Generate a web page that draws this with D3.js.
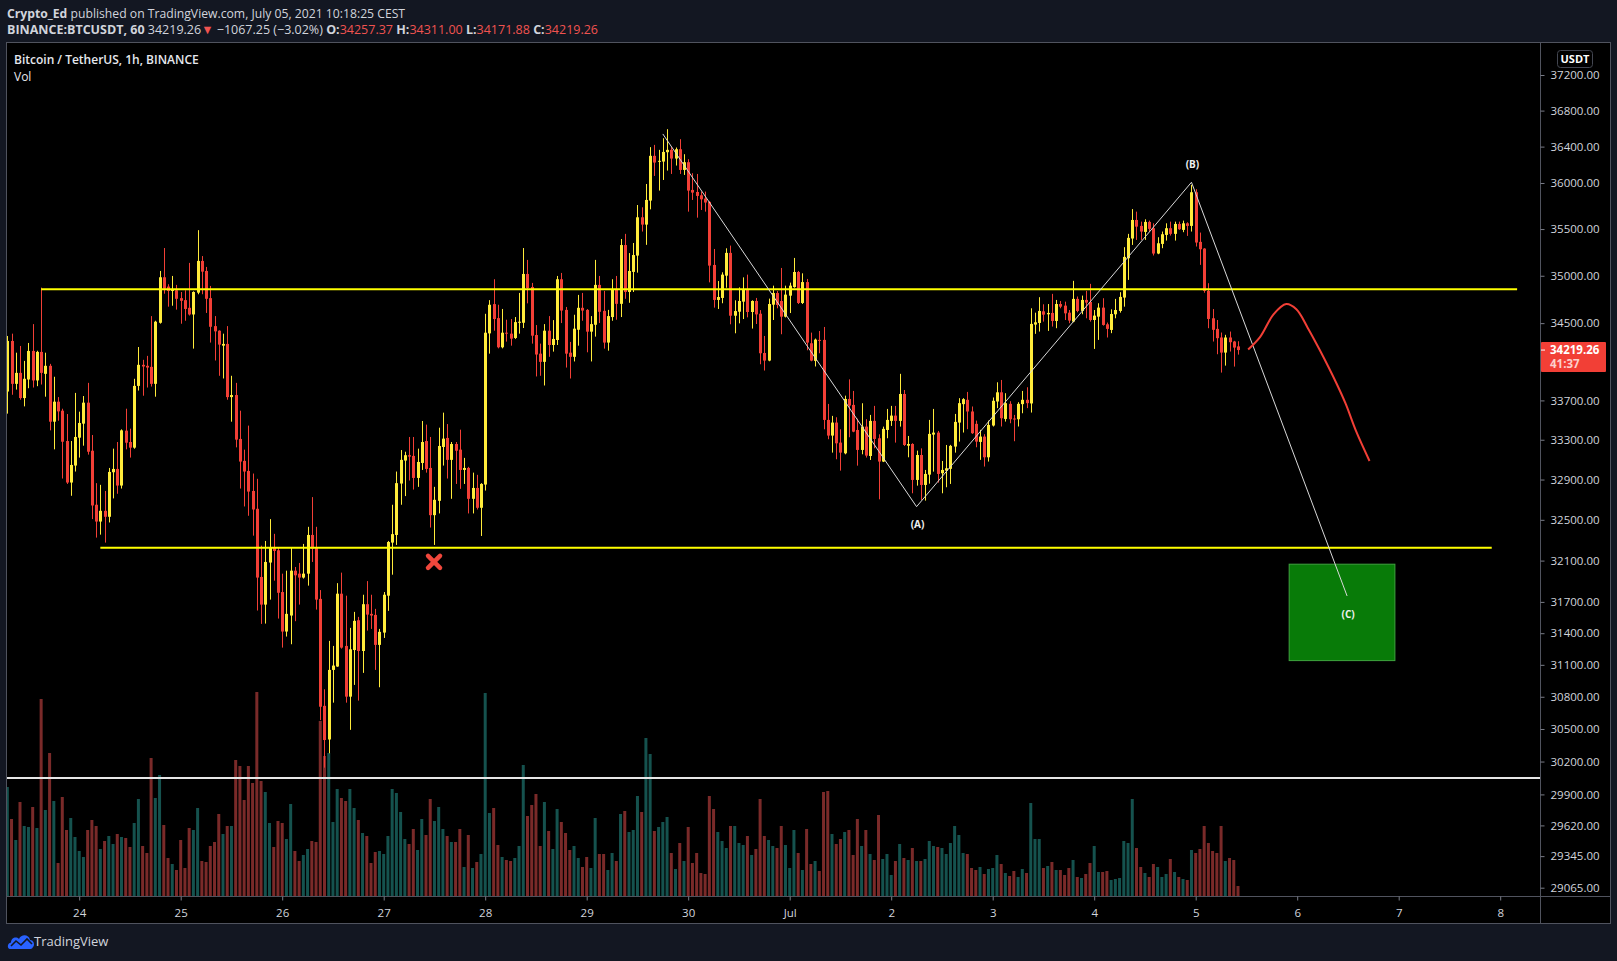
<!DOCTYPE html>
<html>
<head>
<meta charset="utf-8">
<title>BTCUSDT 1h</title>
<script src="https://cdnjs.cloudflare.com/ajax/libs/d3/7.8.5/d3.min.js"></script>
<style>
    body { margin: 0; background: #131722; overflow: hidden; }
    #chart-area text { font-family: "Open Sans", "Noto Sans", sans-serif; }
</style>
</head>
<body>
<div id="chart-area"></div>
<script>

// hourly bars, first one at 23 Jun 07:00
const HOUR = 3600 * 1000
const firstBar = Date.UTC(2021, 5, 23, 7)

const open = [
    33791,34314,33870,33983,33724,33915,34210,33905,34200,33973,34056,33483,
    33687,33595,33287,32870,33040,33321,33463,33677,33189,32649,32483,32589,
    32530,32973,33006,32840,33392,33277,33220,33849,34066,34056,34045,33870,
    34504,34984,34885,34839,34846,34763,34742,34661,34591,34821,35158,35051,
    34763,34469,34421,34265,34283,33734,33755,33308,33087,32986,32786,32609,
    31941,31674,32081,32230,32201,31795,31416,31569,32002,31973,31935,31973,
    32351,32227,31729,30715,30403,31052,31084,31779,31279,30801,31240,31524,
    31231,31678,31585,31575,31289,31406,31760,32276,32351,32860,33090,33144,
    33137,32916,33066,33287,33016,32546,32688,33227,33318,33097,33257,33200,
    32996,33016,32708,32816,32619,32850,34393,34700,34553,34248,34400,34390,
    34345,34504,34504,35019,34881,34376,34182,34097,34421,34272,34324,34963,
    34639,34192,34149,34431,34661,34639,34411,34483,34903,34629,34297,34564,
    34860,34703,35328,34828,35041,35215,35627,35548,35808,36298,36232,36235,
    36338,36364,36268,36371,36143,36228,35924,35902,35866,35830,35794,35115,
    34744,34765,35001,35244,34578,34620,34726,34852,34617,34733,34599,34189,
    34110,34694,34817,34733,34568,34789,34880,35040,34712,34933,34290,34107,
    34325,34325,33501,33342,33474,33271,33163,33715,33654,33399,33197,33433,
    33136,33491,33315,33080,33399,33491,33545,33491,33766,33240,33257,32896,
    33146,32846,32949,33352,33372,32963,32989,33007,33231,33474,33662,33706,
    33587,33461,33278,33332,33123,33444,33689,33783,33511,33665,33515,33508,
    33662,33706,33669,34485,34502,34624,34593,34607,34523,34701,34684,34610,
    34516,34755,34628,34744,34723,34533,34568,34663,34488,34429,34593,34628,
    34769,35187,35398,35598,35534,35469,35577,35509,35237,35340,35437,35509,
    35448,35555,35491,35562,35534,35899,35362,35290,34840,34551,34440,34350,
    34193,34350,34308,34257.37
]

const high = [
    34366,34390,34192,34262,34107,34293,34490,34212,34874,34192,34076,33943,
    33734,33615,33561,33287,33777,33585,33745,33880,33348,32864,32847,32786,
    33016,33210,33277,33405,33615,33412,33922,34251,34118,34159,34574,34525,
    35051,35296,34910,34998,34903,34828,34846,35137,34835,35488,35210,35094,
    34892,34574,34425,34390,34469,33953,33880,33595,33200,33443,32960,32907,
    32246,32292,32507,32362,32230,31973,32002,32230,32038,32077,32263,32431,
    32725,32431,31814,30870,31327,31279,31881,31983,31760,31451,31604,31556,
    31769,31901,31769,31633,31441,31795,32292,32649,32980,33196,33179,33328,
    33328,33210,33490,33453,33328,32827,33422,33575,33459,33277,33277,33402,
    33117,33027,32969,32947,32864,34598,34742,34963,34693,34649,34536,34543,
    34564,34818,35296,35169,34924,34480,34286,34490,34574,34532,34998,35030,
    34670,34304,34588,34797,34818,34648,34574,35169,34998,34839,34639,34963,
    34998,35393,35448,35242,35350,35760,35735,35989,36394,36419,36364,36493,
    36593,36394,36390,36482,36316,36261,36107,36099,35906,35906,35801,35286,
    34944,35037,35293,35322,34740,34877,34983,35012,34740,34765,34637,34366,
    34758,34895,34838,35083,34895,34927,35190,35051,35026,34966,34401,34339,
    34418,34460,33664,33542,33528,33406,33749,33916,33797,33514,33671,33508,
    33552,33644,33355,33433,33613,33644,33644,33973,33807,33338,33265,33190,
    33213,32996,33501,33613,33389,33086,33247,33248,33562,33723,33723,33787,
    33638,33494,33400,33356,33494,33730,33886,33910,33774,33692,33552,33682,
    33797,33835,34656,34610,34773,34698,34701,34808,34744,34733,34726,34638,
    34946,34780,34790,34840,34914,34638,34709,34762,34506,34645,34755,34826,
    35305,35448,35716,35688,35580,35605,35591,35562,35412,35473,35562,35580,
    35580,35580,35591,35573,35979,35932,35462,35294,34921,34648,34533,34402,
    34378,34412,34315,34311.00
]

const low = [
    33565,33758,33811,33707,33639,33825,33832,33846,33863,33738,33395,33203,
    33493,32910,32856,32738,32980,33120,33240,33150,32507,32325,32354,32276,
    32474,32712,32758,32810,33203,33120,33209,33801,33748,33832,33842,33738,
    34495,34810,34673,34683,34642,34494,34525,34580,34234,34804,34804,34607,
    34297,34111,33953,33925,33707,33483,33223,32810,32632,32540,32344,31617,
    31489,31492,31722,31905,31540,31263,31368,31295,31515,31674,31925,31857,
    32087,31626,30582,30144,30276,30745,31081,31253,30745,30492,30911,30764,
    31024,31425,31441,31052,30889,31355,31614,31963,32253,32649,32735,32890,
    32800,32827,32996,32969,32424,32253,32563,33040,32910,32708,32856,32807,
    32856,32563,32563,32602,32341,32790,34182,34421,34237,34237,34307,34265,
    34335,34390,34449,34708,34286,33946,33953,33853,34149,34203,34272,34501,
    34038,33925,34101,34265,34525,34196,34101,34359,34501,34234,34213,34525,
    34536,34564,34756,34714,34828,35033,35473,35330,35713,36077,35917,36033,
    36136,36099,36191,36099,36088,35688,35815,35623,35706,35688,34930,34663,
    34649,34709,34873,34488,34394,34498,34543,34561,34443,34491,34072,34007,
    34103,34533,34656,34384,34560,34606,34873,34701,34701,34217,34103,34049,
    34186,33406,33305,33170,33103,32989,33153,33325,33376,33039,33153,33120,
    33096,33214,32703,33075,33315,33440,33271,33433,33237,33123,32763,32839,
    32697,32690,32859,32979,32869,32763,32823,32856,33170,33281,33373,33407,
    33359,33224,33097,33030,33080,33434,33621,33434,33484,33467,33285,33434,
    33569,33621,33576,34388,34412,34516,34419,34464,34447,34656,34533,34499,
    34509,34614,34593,34551,34516,34231,34325,34474,34350,34395,34551,34610,
    34673,34956,35329,35383,35383,35383,35473,35216,35230,35294,35376,35430,
    35376,35491,35466,35426,35473,35312,35116,34820,34447,34308,34176,33986,
    34058,34204,34048,34171.88
]

const close = [
    34314,33870,33983,33724,33922,34210,33905,34200,33983,34056,33483,33687,
    33588,33280,32870,33046,33328,33470,33677,33179,32642,32483,32589,32530,
    32976,33006,32840,33395,33270,33220,33849,34066,34049,34038,33870,34515,
    34984,34863,34839,34853,34756,34735,34649,34591,34828,35158,35044,34756,
    34462,34414,34276,34283,33734,33755,33301,33080,32980,32780,32602,31935,
    31674,32087,32230,32194,31788,31416,31585,32002,31957,31935,31973,32351,
    32217,31722,30707,30398,31052,31093,31779,31263,30801,31247,31518,31231,
    31678,31578,31569,31289,31413,31769,32282,32359,32864,33097,33144,33130,
    32916,33076,33277,33006,32546,32698,33237,33311,33097,33257,33189,32996,
    33016,32708,32816,32619,32856,34400,34693,34543,34248,34400,34390,34338,
    34511,34515,35019,34870,34369,34173,34097,34421,34272,34335,34963,34632,
    34182,34149,34442,34661,34632,34411,34490,34903,34619,34297,34574,34850,
    34703,35328,34828,35051,35221,35627,35548,35815,36298,36224,36243,36341,
    36364,36268,36371,36143,36228,35917,35895,35859,35822,35787,35108,34744,
    34775,35012,35244,34578,34627,34733,34852,34617,34733,34592,34186,34110,
    34701,34817,34691,34568,34800,34895,35040,34712,34933,34297,34110,34328,
    34318,33501,33342,33474,33264,33170,33715,33647,33382,33197,33433,33140,
    33491,33308,33080,33410,33501,33545,33491,33766,33247,33257,32896,33146,
    32846,32956,33359,33372,32956,32996,33013,33238,33481,33672,33713,33587,
    33366,33281,33332,33123,33450,33696,33783,33518,33672,33508,33508,33665,
    33706,33672,34492,34509,34628,34589,34607,34523,34701,34673,34603,34527,
    34755,34628,34744,34716,34533,34579,34663,34481,34440,34596,34638,34776,
    35201,35405,35598,35526,35473,35577,35502,35237,35347,35444,35509,35448,
    35555,35498,35562,35534,35899,35355,35283,34840,34544,34430,34343,34193,
    34350,34301,34245,34219.26
]

// volume, relative units
const volume = [
    109,77,56,94,70,69,89,68,197,86,143,95,
    33,99,66,78,59,45,39,66,76,70,47,55,
    60,52,62,59,58,49,73,97,50,43,138,98,
    121,71,38,32,26,56,28,68,66,88,35,34,
    50,54,82,62,70,70,136,130,96,130,113,204,
    115,104,73,49,75,73,57,92,45,35,41,47,
    55,54,175,140,143,74,107,98,95,107,88,76,
    63,60,33,44,45,42,60,107,103,84,57,52,
    67,46,77,61,97,75,89,67,60,54,54,67,
    29,61,28,34,42,203,83,88,51,39,36,35,
    38,50,131,80,91,102,50,94,65,47,87,74,
    63,46,50,38,29,39,28,78,42,42,26,43,
    35,82,85,64,66,100,84,158,142,65,69,74,
    79,43,27,53,35,69,33,43,23,22,100,87,
    64,55,48,70,70,53,51,60,41,47,97,60,
    56,50,48,70,51,28,66,43,26,67,32,35,
    25,104,105,62,52,57,64,66,41,77,50,66,
    42,36,81,37,42,21,35,52,38,36,48,35,
    35,37,55,50,49,48,42,53,70,61,43,42,
    28,26,29,22,27,28,41,32,23,20,25,19,
    27,23,93,57,57,28,30,34,26,26,21,28,
    36,19,18,22,33,50,24,24,25,16,17,18,
    55,53,97,48,29,23,19,32,29,19,22,37,
    24,19,17,16,46,43,47,70,53,45,43,70,
    35,38,36,10
]

// axis ticks
const dayTicks = ["2021-06-24","2021-06-25","2021-06-26","2021-06-27","2021-06-28","2021-06-29","2021-06-30",
    "2021-07-01","2021-07-02","2021-07-03","2021-07-04","2021-07-05","2021-07-06","2021-07-07","2021-07-08"]
const priceTicks = [37200, 36800, 36400, 36000, 35500, 35000, 34500, 33700, 33300, 32900,
    32500, 32100, 31700, 31400, 31100, 30800, 30500, 30200, 29900, 29620, 29345, 29065]

// drawings
const levelPrices = [34857, 32226]
const levelFrom = ["2021-06-23T15:00", "2021-06-24T05:00"]
const levelTo = ["2021-07-08T04:00", "2021-07-07T22:00"]
const markerPrice = 30050

const waveTimes = ["2021-06-29T18:00", "2021-07-02T06:00", "2021-07-04T23:00", "2021-07-06T11:48"]
const wavePrices = [36540, 32630, 36008, 31757]
const waveLabels = ["", "(A)", "(B)", "(C)"]

const targetTimes = ["2021-07-05T22:06", "2021-07-06T23:06"]
const targetPrices = [32065, 31140]

const forecastTimes = ["2021-07-05T12:24","2021-07-05T15:12","2021-07-05T18:24","2021-07-05T21:24","2021-07-05T23:48",
    "2021-07-06T02:30","2021-07-06T05:24","2021-07-06T09:18","2021-07-06T11:30","2021-07-06T13:54","2021-07-06T17:06"]
const forecastPrices = [34225, 34354, 34592, 34700, 34645, 34450, 34214, 33873, 33661, 33389, 33086]

const crossTime = "2021-06-27T11:54"
const crossPrice = 32087

const UP = "#ffeb3b", DOWN = "#f23f36"
const VOL_UP = "#15524e", VOL_DOWN = "#7a2a29"
const TEXT = "#d1d4dc", RED_TEXT = "#f05350"

const parseTime = d3.utcParse("%Y-%m-%dT%H:%M")
const parseDay = d3.utcParse("%Y-%m-%d")


class CandleChart {

    constructor(parentElement) {
        this.parentElement = parentElement
        this.initVis()
    }

    initVis() {
        let vis = this

        vis.width = 1617
        vis.height = 961
        vis.pane = { left: 6, top: 42, right: 1610, bottom: 923 }
        vis.plotRight = 1540
        vis.plotBottom = 896

        vis.svg = d3.select("#" + vis.parentElement).append("svg")
            .attr("width", vis.width)
            .attr("height", vis.height)

        vis.svg.append("rect")
            .attr("width", vis.width)
            .attr("height", vis.height)
            .attr("fill", "#131722")

        // pane
        vis.svg.append("rect")
            .attr("x", vis.pane.left + 0.5)
            .attr("y", vis.pane.top + 0.5)
            .attr("width", vis.pane.right - vis.pane.left)
            .attr("height", vis.pane.bottom - vis.pane.top)
            .attr("fill", "#000")
            .attr("stroke", "#50535e")

        vis.svg.append("clipPath").attr("id", "plot-clip")
            .append("rect")
            .attr("x", vis.pane.left + 1)
            .attr("y", vis.pane.top + 1)
            .attr("width", vis.plotRight - vis.pane.left - 1)
            .attr("height", vis.plotBottom - vis.pane.top - 1)

        // scales
        vis.x = d3.scaleUtc()
            .domain([parseDay("2021-06-24"), parseDay("2021-07-08")])
            .range([79.2, 1500.2])

        vis.y = d3.scaleLog()
            .domain([29065, 37200])
            .range([887.7, 75])

        vis.yVol = d3.scaleLinear()
            .domain([0, 200])
            .range([vis.plotBottom, vis.plotBottom - 200])

        vis.plot = vis.svg.append("g").attr("clip-path", "url(#plot-clip)")

        vis.wrangleData()
    }

    wrangleData() {
        let vis = this

        vis.bars = close.map((c, i) => ({
            time: new Date(firstBar + i * HOUR),
            open: open[i],
            high: high[i],
            low: low[i],
            close: c,
            volume: volume[i],
            up: c >= open[i]
        }))

        vis.updateVis()
    }

    updateVis() {
        let vis = this
        let x = vis.x, y = vis.y

        // volume overlay
        vis.plot.selectAll(".vol-bar")
            .data(vis.bars)
            .enter().append("rect")
            .attr("class", "vol-bar")
            .attr("x", d => x(d.time) - 1.5)
            .attr("width", 3)
            .attr("y", d => vis.yVol(d.volume))
            .attr("height", d => vis.plotBottom - vis.yVol(d.volume))
            .attr("fill", d => d.up ? VOL_UP : VOL_DOWN)

        // candles
        let candles = vis.plot.selectAll(".candle")
            .data(vis.bars)
            .enter().append("g")
            .attr("class", "candle")
            .attr("fill", d => d.up ? UP : DOWN)
            .attr("stroke", d => d.up ? UP : DOWN)

        candles.append("line")
            .attr("x1", d => Math.round(x(d.time)) + 0.5)
            .attr("x2", d => Math.round(x(d.time)) + 0.5)
            .attr("y1", d => y(d.high))
            .attr("y2", d => y(d.low))
            .attr("stroke-width", 1)

        candles.append("rect")
            .attr("x", d => Math.round(x(d.time)) - 1)
            .attr("width", 3)
            .attr("y", d => y(Math.max(d.open, d.close)))
            .attr("height", d => Math.max(1, Math.abs(y(d.open) - y(d.close))))
            .attr("stroke", "none")

        // white level across the chart
        vis.plot.append("line")
            .attr("x1", vis.pane.left)
            .attr("x2", vis.plotRight)
            .attr("y1", y(markerPrice))
            .attr("y2", y(markerPrice))
            .attr("stroke", "#e6e6e6")
            .attr("stroke-width", 2)

        // yellow support / resistance
        vis.plot.selectAll(".level")
            .data(levelPrices)
            .enter().append("line")
            .attr("class", "level")
            .attr("x1", (d, i) => x(parseTime(levelFrom[i])))
            .attr("x2", (d, i) => x(parseTime(levelTo[i])))
            .attr("y1", d => y(d))
            .attr("y2", d => y(d))
            .attr("stroke", "#ffff00")
            .attr("stroke-width", 2)

        // target zone
        vis.plot.append("rect")
            .attr("x", x(parseTime(targetTimes[0])))
            .attr("y", y(targetPrices[0]))
            .attr("width", x(parseTime(targetTimes[1])) - x(parseTime(targetTimes[0])))
            .attr("height", y(targetPrices[1]) - y(targetPrices[0]))
            .attr("fill", "#087b08")
            .attr("stroke", "#3fa33f")
            .attr("stroke-width", 1)

        // abc wave
        let wave = waveTimes.map((t, i) => [x(parseTime(t)), y(wavePrices[i])])
        vis.plot.append("path")
            .attr("d", d3.line()(wave))
            .attr("fill", "none")
            .attr("stroke", "#d9d9d9")
            .attr("stroke-width", 1)

        let labelOffset = [0, 21, -14, 22]
        vis.plot.selectAll(".wave-label")
            .data(waveLabels)
            .enter().append("text")
            .attr("class", "wave-label")
            .attr("x", (d, i) => wave[i][0] + 1)
            .attr("y", (d, i) => wave[i][1] + labelOffset[i])
            .attr("text-anchor", "middle")
            .attr("font-size", "10px")
            .attr("font-weight", "bold")
            .attr("fill", "#f0f0f0")
            .text(d => d)

        // forecast path
        vis.plot.append("path")
            .attr("d", d3.line().curve(d3.curveCatmullRom)(forecastTimes.map((t, i) => [x(parseTime(t)), y(forecastPrices[i])])))
            .attr("fill", "none")
            .attr("stroke", "#f23f36")
            .attr("stroke-width", 2)

        // failed breakdown cross
        let cx = x(parseTime(crossTime)), cy = y(crossPrice), s = 6
        vis.plot.append("path")
            .attr("d", `M${cx - s},${cy - s}L${cx + s},${cy + s}M${cx + s},${cy - s}L${cx - s},${cy + s}`)
            .attr("stroke", "#f0473c")
            .attr("stroke-width", 4.5)
            .attr("stroke-linecap", "round")

        // axes
        vis.svg.append("line")
            .attr("x1", vis.plotRight + 0.5).attr("x2", vis.plotRight + 0.5)
            .attr("y1", vis.pane.top).attr("y2", vis.pane.bottom)
            .attr("stroke", "#50535e")
        vis.svg.append("line")
            .attr("x1", vis.pane.left).attr("x2", vis.pane.right)
            .attr("y1", vis.plotBottom + 0.5).attr("y2", vis.plotBottom + 0.5)
            .attr("stroke", "#50535e")

        vis.yAxis = d3.axisRight(y)
            .tickValues(priceTicks)
            .tickFormat(d3.format(".2f"))
            .tickSize(4)
            .tickPadding(6)

        vis.svg.append("g")
            .attr("class", "y-axis axis")
            .attr("transform", "translate(" + (vis.plotRight + 0.5) + ",0)")
            .call(vis.yAxis)

        vis.xAxis = d3.axisBottom(x)
            .tickValues(dayTicks.map(parseDay))
            .tickFormat(d => d.getUTCDate() === 1 ? d3.utcFormat("%b")(d) : d.getUTCDate())
            .tickSize(4)
            .tickPadding(8)

        vis.svg.append("g")
            .attr("class", "x-axis axis")
            .attr("transform", "translate(0," + (vis.plotBottom + 0.5) + ")")
            .call(vis.xAxis)

        vis.svg.selectAll(".axis .domain").remove()
        vis.svg.selectAll(".axis line").attr("stroke", "#787b86")
        vis.svg.selectAll(".axis text")
            .attr("fill", TEXT)
            .attr("font-size", "11.5px")
        vis.svg.selectAll(".axis").attr("font-family", null)

        // last price label
        let last = vis.bars[vis.bars.length - 1]
        let ly = y(last.close)
        vis.svg.append("rect")
            .attr("x", vis.plotRight + 1)
            .attr("y", ly - 8)
            .attr("width", 65)
            .attr("height", 30)
            .attr("rx", 1)
            .attr("fill", "#f23f36")
        vis.svg.append("line")
            .attr("x1", vis.plotRight + 1).attr("x2", vis.plotRight + 5)
            .attr("y1", ly).attr("y2", ly)
            .attr("stroke", "#fff")
        vis.svg.append("text")
            .attr("x", vis.plotRight + 10)
            .attr("y", ly + 4)
            .attr("font-size", "11.5px")
            .attr("font-weight", "bold")
            .attr("fill", "#fff")
            .text(d3.format(".2f")(last.close))
        vis.svg.append("text")
            .attr("x", vis.plotRight + 10)
            .attr("y", ly + 18)
            .attr("font-size", "11.5px")
            .attr("font-weight", "bold")
            .attr("fill", "#fcd0cc")
            .text("41:37")

        // currency badge
        vis.svg.append("rect")
            .attr("x", 1557.5).attr("y", 50.5)
            .attr("width", 35).attr("height", 17)
            .attr("rx", 3)
            .attr("fill", "#000")
            .attr("stroke", "#434651")
        vis.svg.append("text")
            .attr("x", 1575).attr("y", 63)
            .attr("text-anchor", "middle")
            .attr("font-size", "11px")
            .attr("font-weight", "bold")
            .attr("fill", "#fff")
            .text("USDT")

        // legend in pane
        vis.svg.append("text")
            .attr("x", 14).attr("y", 64)
            .attr("font-size", "12px")
            .attr("font-weight", 600)
            .attr("fill", "#e6e8ee")
            .text("Bitcoin / TetherUS, 1h, BINANCE")
        vis.svg.append("text")
            .attr("x", 14).attr("y", 81)
            .attr("font-size", "12px")
            .attr("fill", "#e6e8ee")
            .text("Vol")

        // header
        let line1 = vis.svg.append("text")
            .attr("x", 7).attr("y", 17.5)
            .attr("font-size", "12.2px")
            .attr("fill", TEXT)
        line1.append("tspan").attr("font-weight", "bold").text("Crypto_Ed")
        line1.append("tspan").text(" published on TradingView.com, July 05, 2021 10:18:25 CEST")

        let line2 = vis.svg.append("text")
            .attr("x", 7).attr("y", 34)
            .attr("font-size", "12.5px")
            .attr("fill", TEXT)
        let parts = [
            ["BINANCE:BTCUSDT, 60", "bold", TEXT],
            [" 34219.26", "normal", TEXT],
            ["\u25BC", "normal", RED_TEXT],
            [" \u22121067.25 (\u22123.02%)", "normal", TEXT],
            [" O:", "bold", TEXT], ["34257.37", "normal", RED_TEXT],
            [" H:", "bold", TEXT], ["34311.00", "normal", RED_TEXT],
            [" L:", "bold", TEXT], ["34171.88", "normal", RED_TEXT],
            [" C:", "bold", TEXT], ["34219.26", "normal", RED_TEXT]
        ]
        parts.forEach(p => {
            line2.append("tspan")
                .attr("font-weight", p[1])
                .attr("fill", p[2])
                .text(p[0])
        })

        // footer logo
        let logo = vis.svg.append("g").attr("transform", "translate(8,933)")
        logo.append("path")
            .attr("d", "M2,16 C-1,16 -1,10 3,9.5 C3,5 8,3 11,6 C13,1 21,1 22,7 C26,7 27,12 25,14 C24,16 23,16 21,16 Z")
            .attr("fill", "#2962ff")
        logo.append("path")
            .attr("d", "M3,13 L8,8 L13,12 L19,6 L24,11")
            .attr("fill", "none")
            .attr("stroke", "#131722")
            .attr("stroke-width", 1.6)
        vis.svg.append("text")
            .attr("x", 34).attr("y", 946)
            .attr("font-size", "13px")
            .attr("fill", TEXT)
            .text("TradingView")
    }
}

new CandleChart("chart-area")

</script>
</body>
</html>
